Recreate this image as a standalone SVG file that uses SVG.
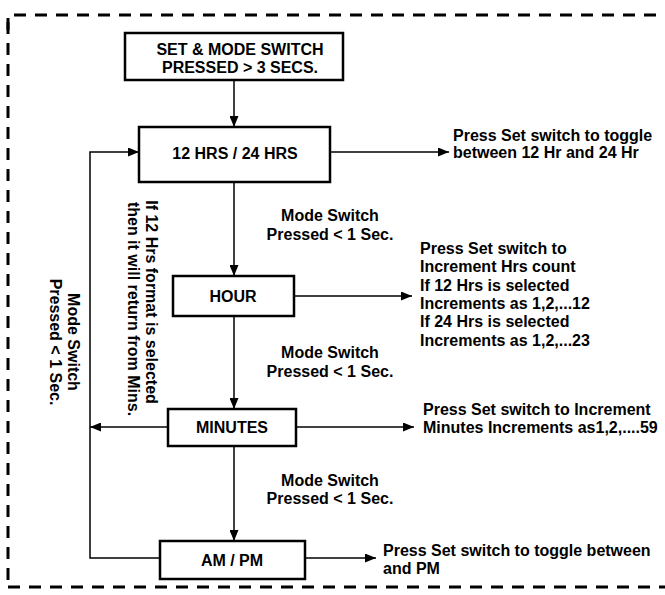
<svg xmlns="http://www.w3.org/2000/svg" width="665" height="595" viewBox="0 0 665 595">
<defs>
<marker id="ah" markerWidth="11" markerHeight="9" refX="11" refY="4.5" orient="auto" markerUnits="userSpaceOnUse">
<path d="M0,0 L11,4.5 L0,9 Z" fill="#000"/>
</marker>
<style>
.box{fill:#fff;stroke:#000;stroke-width:2.5}
.t{font-family:"Liberation Sans",Arial,sans-serif;font-weight:bold;font-size:16px;fill:#000}
.c{text-anchor:middle}
.arr{fill:none;stroke:#000;stroke-width:1.5;marker-end:url(#ah)}
.border{fill:none;stroke:#000;stroke-width:3;stroke-dasharray:12 9}
</style>
</defs>
<rect width="665" height="595" fill="#fff"/>
<g id="border">
<path class="border" d="M8,30 L8,15 L670,15"/>
<path class="border" d="M8,22 L8,587"/>
<path class="border" d="M8,587 L670,587"/>
</g>
<g id="connectors">
<path class="arr" d="M234,80 L234,127"/>
<path class="arr" d="M330,152 L449,152"/>
<path class="arr" d="M234,182 L234,276"/>
<path class="arr" d="M294,296 L412,296"/>
<path class="arr" d="M234,316 L234,409"/>
<path class="arr" d="M168,427 L90,427"/>
<path class="arr" d="M296,427 L414,427"/>
<path class="arr" d="M234,446 L234,541"/>
<path class="arr" d="M305,558 L376,558"/>
<path class="arr" d="M160,558 L90,558 L90,152 L139,152"/>
</g>
<g id="n_start">
<rect class="box" x="125" y="33" width="218" height="47"/>
<text class="t c" x="240" y="55">SET &amp; MODE SWITCH</text>
<text class="t c" x="240" y="73">PRESSED &gt; 3 SECS.</text>
</g>
<g id="n_1224">
<rect class="box" x="139" y="127" width="191" height="55"/>
<text class="t c" x="235" y="159">12 HRS / 24 HRS</text>
</g>
<g id="n_hour">
<rect class="box" x="173" y="276" width="121" height="40"/>
<text class="t c" x="233" y="302">HOUR</text>
</g>
<g id="n_min">
<rect class="box" x="168" y="409" width="128" height="37"/>
<text class="t c" x="232" y="433">MINUTES</text>
</g>
<g id="n_ampm">
<rect class="box" x="160" y="541" width="145" height="38"/>
<text class="t c" x="232" y="566">AM / PM</text>
</g>
<g id="labels">
<text class="t c" x="330" y="221">Mode Switch</text>
<text class="t c" x="330" y="240">Pressed &lt; 1 Sec.</text>
<text class="t c" x="330" y="358">Mode Switch</text>
<text class="t c" x="330" y="377">Pressed &lt; 1 Sec.</text>
<text class="t c" x="330" y="486">Mode Switch</text>
<text class="t c" x="330" y="504">Pressed &lt; 1 Sec.</text>
<text class="t" x="453" y="141">Press Set switch to toggle</text>
<text class="t" x="453" y="158">between 12 Hr and 24 Hr</text>
<text class="t" x="420" y="254">Press Set switch to</text>
<text class="t" x="420" y="272">Increment Hrs count</text>
<text class="t" x="420" y="291">If 12 Hrs is selected</text>
<text class="t" x="420" y="309">Increments as 1,2,...12</text>
<text class="t" x="420" y="327">If 24 Hrs is selected</text>
<text class="t" x="420" y="346">Increments as 1,2,...23</text>
<text class="t" x="423" y="415">Press Set switch to Increment</text>
<text class="t" x="423" y="433">Minutes Increments as1,2,....59</text>
<text class="t" x="383" y="556">Press Set switch to toggle between</text>
<text class="t" x="383" y="574">and PM</text>
<text class="t c" transform="translate(68,342) rotate(90)">Mode Switch</text>
<text class="t c" transform="translate(50,342) rotate(90)">Pressed &lt; 1 Sec.</text>
<text class="t c" transform="translate(146,302) rotate(90)">If 12 Hrs format is selected</text>
<text class="t c" transform="translate(128,309) rotate(90)">then it will return from Mins.</text>
</g>
</svg>
